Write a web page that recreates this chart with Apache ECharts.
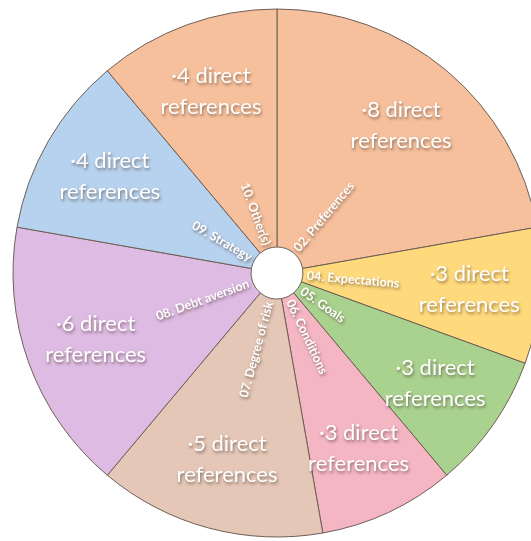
<!DOCTYPE html>
<html>
<head>
<meta charset="utf-8">
<script src="https://cdn.jsdelivr.net/npm/echarts@6/dist/echarts.min.js"></script>
<style>
    html, body { margin: 0; padding: 0; background: #fff; }
    #chartPie { width: 531px; height: 541px; }
</style>
</head>
<body>
<div id="chartPie"></div>
<script>
    // data, clockwise from 12 o'clock
    var categories = ['02. Preferences', '04. Expectations', '05. Goals', '06. Conditions',
        '07. Degree of risk', '08. Debt aversion', '09. Strategy', '10. Other(s)']
    var refCounts = [8, 3, 3, 3, 5, 6, 4, 4]
    var colors = ['#F6C09C', '#FFDA7C', '#AAD28F', '#F4B6C3', '#E4C7B7', '#DEBBE3', '#B7D2EE', '#F6C09C']

    var total = refCounts.reduce(function (a, b) { return a + b }, 0)

    // category labels start at the hole: text goes outward on the right half, inward on the left half
    var ringData = []
    var valueData = []
    var acc = 0
    for (var i = 0; i < categories.length; i++) {
        var mid = (acc + refCounts[i] / 2) / total * 360
        acc += refCounts[i]
        var leftSide = mid > 180
        ringData.push({
            name: categories[i],
            value: refCounts[i],
            itemStyle: { color: colors[i] },
            label: {
                formatter: '{t|' + categories[i] + '}',
                rich: { t: { align: leftSide ? 'right' : 'left' } }
            }
        })
        valueData.push({ name: categories[i], value: refCounts[i] })
    }

    var shadow = {
        textShadowColor: 'rgba(60,40,30,0.55)',
        textShadowBlur: 3,
        textShadowOffsetX: 1,
        textShadowOffsetY: 2
    }

    var chartPie = echarts.init(document.getElementById('chartPie'))
    chartPie.setOption({
        animation: false,
        series: [
            {
                type: 'pie',
                center: [277, 273],
                radius: [26, 264],
                startAngle: 90,
                clockwise: true,
                silent: true,
                data: ringData,
                itemStyle: { borderColor: '#6E5E55', borderWidth: 1 },
                label: Object.assign({
                    show: true,
                    position: 'inside',
                    rotate: 'radial',
                    width: 236,
                    color: '#fff',
                    fontFamily: 'Lato, "Open Sans", sans-serif',
                    fontSize: 12.5,
                    fontWeight: 'bold'
                }, shadow),
                labelLine: { show: false }
            },
            {
                // transparent overlay only carries the value labels further out
                type: 'pie',
                center: [277, 273],
                radius: [0, 380],
                startAngle: 90,
                clockwise: true,
                silent: true,
                data: valueData,
                itemStyle: { color: 'rgba(0,0,0,0)' },
                label: Object.assign({
                    show: true,
                    position: 'inside',
                    formatter: function (p) { return '·' + p.value + ' direct\nreferences' },
                    color: '#fff',
                    fontFamily: 'Lato, "Open Sans", sans-serif',
                    fontSize: 22,
                    lineHeight: 31,
                    align: 'center'
                }, shadow),
                labelLine: { show: false }
            }
        ]
    })
</script>
</body>
</html>
